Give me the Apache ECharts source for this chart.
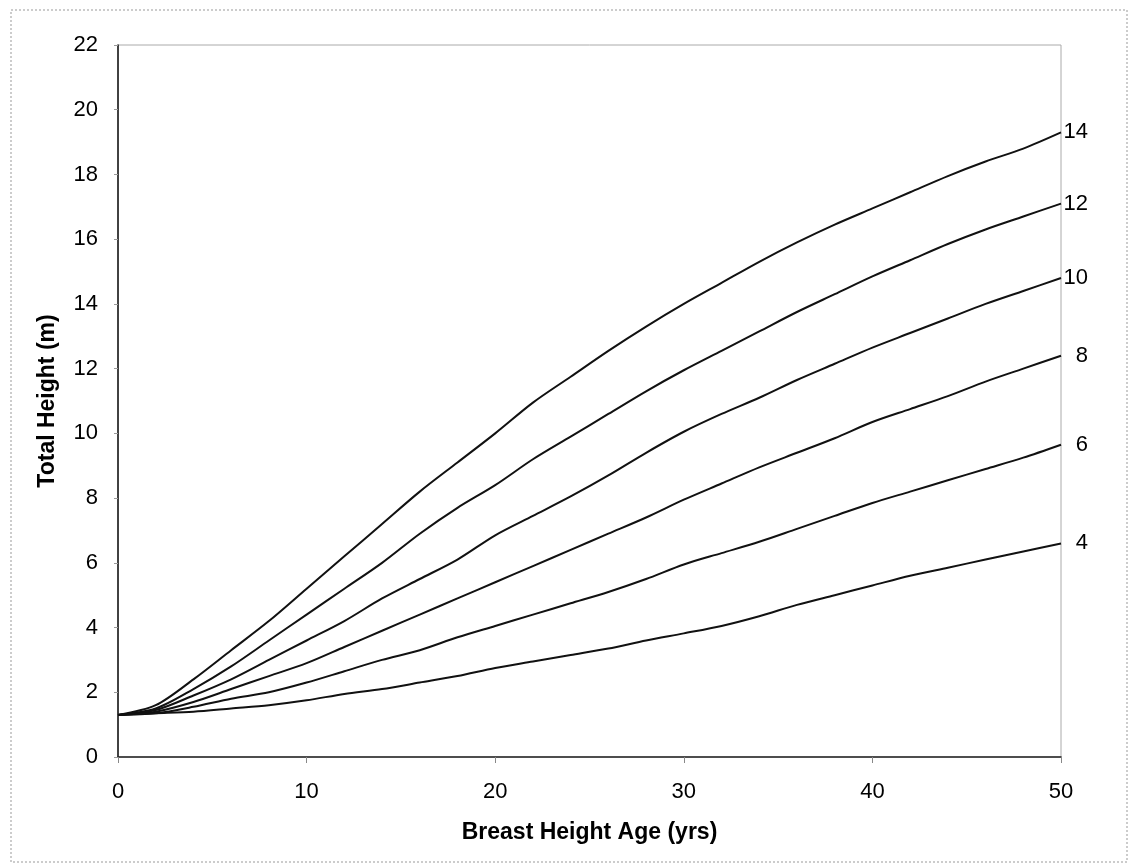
<!DOCTYPE html>
<html>
<head>
<meta charset="utf-8">
<script src="https://cdn.jsdelivr.net/npm/echarts@6/dist/echarts.min.js"></script>
<style>
html,body{margin:0;padding:0;background:#fff;}
#chart{width:1131px;height:864px;}
</style>
</head>
<body>
<div id="chart"></div>
<script>
// Breast height age (yrs)
const ages = [0,2,4,6,8,10,12,14,16,18,20,22,24,26,28,30,32,34,36,38,40,42,44,46,48,50];
// Total height (m) for each curve label
const h14 = [1.3,1.6,2.4,3.3,4.2,5.2,6.2,7.2,8.2,9.1,10.0,10.95,11.75,12.55,13.3,14.0,14.65,15.3,15.9,16.45,16.95,17.45,17.95,18.4,18.8,19.3];
const h12 = [1.3,1.5,2.1,2.8,3.6,4.4,5.2,6.0,6.9,7.7,8.4,9.2,9.9,10.6,11.3,11.95,12.55,13.15,13.75,14.3,14.85,15.35,15.85,16.3,16.7,17.1];
const h10 = [1.3,1.45,1.9,2.4,3.0,3.6,4.2,4.9,5.5,6.1,6.85,7.45,8.05,8.7,9.4,10.05,10.6,11.1,11.65,12.15,12.65,13.1,13.55,14.0,14.4,14.8];
const h8  = [1.3,1.4,1.7,2.1,2.5,2.9,3.4,3.9,4.4,4.9,5.4,5.9,6.4,6.9,7.4,7.95,8.45,8.95,9.4,9.85,10.35,10.75,11.15,11.6,12.0,12.4];
const h6  = [1.3,1.35,1.55,1.8,2.0,2.3,2.65,3.0,3.3,3.7,4.05,4.4,4.75,5.1,5.5,5.95,6.3,6.65,7.05,7.45,7.85,8.2,8.55,8.9,9.25,9.65];
const h4  = [1.3,1.35,1.4,1.5,1.6,1.75,1.95,2.1,2.3,2.5,2.75,2.95,3.15,3.35,3.6,3.82,4.05,4.35,4.7,5.0,5.3,5.6,5.85,6.1,6.35,6.6];
const curveNames = ['14','12','10','8','6','4'];
const curveValues = [h14,h12,h10,h8,h6,h4];
const xTicks = [0,10,20,30,40,50];
const yTicks = [0,2,4,6,8,10,12,14,16,18,20,22];

const FONT = '"Liberation Sans", Arial, sans-serif';
const chart = echarts.init(document.getElementById('chart'), null, {renderer:'canvas'});

const series = curveNames.map((name, i) => ({
  name: name,
  type: 'line',
  data: ages.map((a, j) => [a, curveValues[i][j]]),
  showSymbol: false,
  symbol: 'none',
  smooth: 0.3,
  lineStyle: {color: '#111', width: 2},
  endLabel: {
    show: true,
    formatter: '{a}',
    color: '#000',
    fontFamily: FONT,
    fontSize: 22,
    align: 'right',
    distance: 0,
    offset: [27, 0]
  },
  emphasis: {disabled: true},
  silent: true,
  z: 3
}));

chart.setOption({
  animation: false,
  backgroundColor: '#fff',
  grid: {
    left: 118, right: 70, top: 45, bottom: 107,
    show: true, borderColor: '#aaa', borderWidth: 1,
    backgroundColor: 'transparent'
  },
  xAxis: {
    type: 'value', min: 0, max: 50, interval: 10,
    name: 'Breast Height Age (yrs)', nameLocation: 'middle', nameGap: 64,
    nameTextStyle: {fontFamily: FONT, fontWeight: 'bold', fontSize: 23, color: '#000'},
    axisLine: {show: true, lineStyle: {color: '#222', width: 1.5}},
    axisTick: {show: true, inside: false, length: 6, lineStyle: {color: '#888'}},
    axisLabel: {fontFamily: FONT, fontSize: 22, color: '#000', margin: 24,
      formatter: v => xTicks.includes(v) ? String(v) : ''},
    splitLine: {show: false}
  },
  yAxis: {
    type: 'value', min: 0, max: 22, interval: 2,
    name: 'Total Height (m)', nameLocation: 'middle', nameGap: 59, nameRotate: 90,
    nameTextStyle: {fontFamily: FONT, fontWeight: 'bold', fontSize: 23, color: '#000'},
    axisLine: {show: true, lineStyle: {color: '#111', width: 1.5}},
    axisTick: {show: true, length: 4, lineStyle: {color: '#999'}},
    axisLabel: {fontFamily: FONT, fontSize: 22, color: '#000', margin: 20,
      formatter: v => yTicks.includes(v) ? String(v) : ''},
    splitLine: {show: false}
  },
  graphic: [{
    type: 'rect',
    shape: {x: 11, y: 10, width: 1116, height: 852},
    style: {fill: 'none', stroke: '#999', lineWidth: 1, lineDash: [2, 2]},
    silent: true, z: -1
  }],
  series: series
});
</script>
</body>
</html>
